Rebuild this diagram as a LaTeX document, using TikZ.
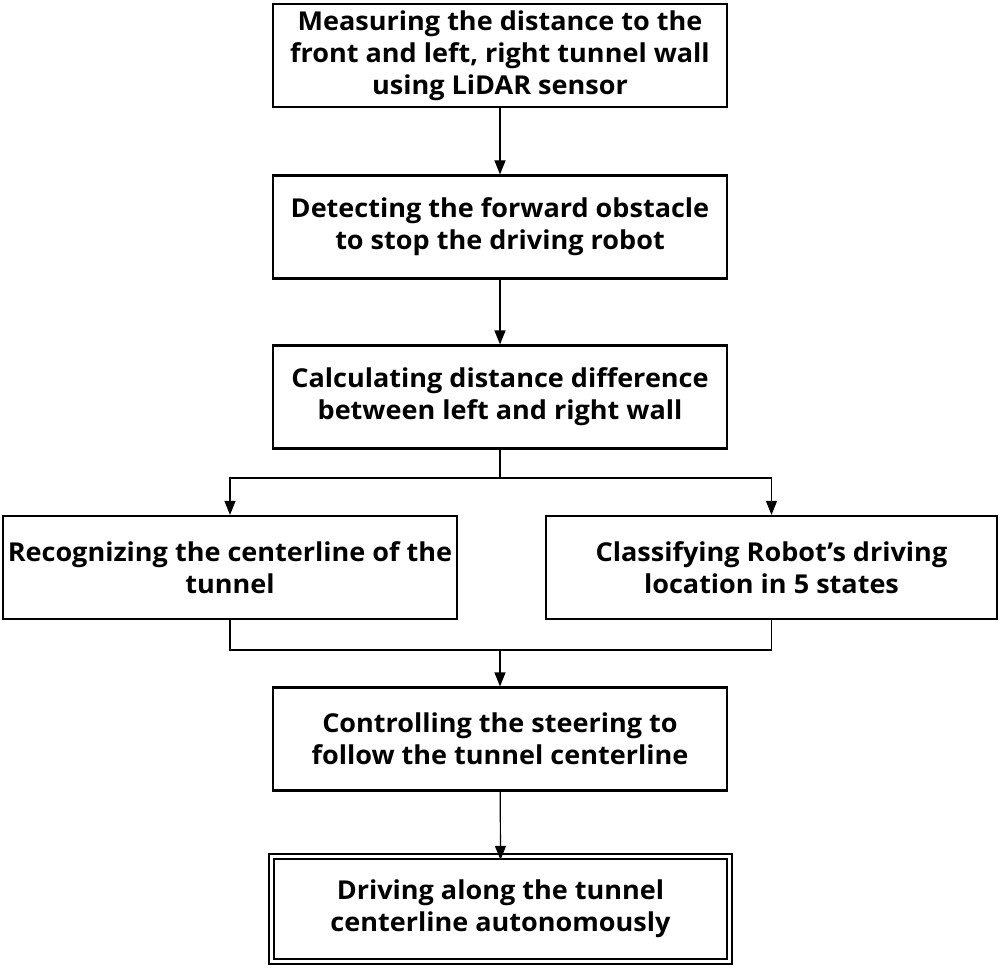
\documentclass[tikz,border=0pt]{standalone}
\usepackage{fontspec}
\setmainfont{Open Sans}[FakeStretch=1.04]
\usetikzlibrary{arrows.meta}
\begin{document}
\begin{tikzpicture}[x=1pt,y=-1pt,
  box/.style={draw,line width=2.2pt,minimum width=454pt,minimum height=103pt,align=center,inner sep=0pt,
    font=\fontsize{26}{32}\selectfont\bfseries},
  conn/.style={line width=1.2pt},
  arr/.style={conn,-{Triangle[length=14pt,width=11pt]}}]
\useasboundingbox (0,0) rectangle (1001,968);
\node[box] (b1) at (500,55.5) {Measuring the distance to the\\front and left, right tunnel wall\\using LiDAR sensor};
\node[box] (b2) at (500,227) {Detecting the forward obstacle\\to stop the driving robot};
\node[box] (b3) at (500,397) {Calculating distance difference\\between left and right wall};
\node[box,minimum width=454pt] (b4) at (230,567.5) {Recognizing the centerline of the\\tunnel};
\node[box,minimum width=451pt] (b5) at (771.5,567.5) {Classifying Robot’s driving\\location in 5 states};
\node[box] (b6) at (500,739) {Controlling the steering to\\follow the tunnel centerline};
\node[box,draw=none,minimum width=455pt,minimum height=103pt] (b7) at (500.5,909) {Driving along the tunnel\\centerline autonomously};
\draw[line width=2pt,double,double distance=3pt] (b7.south west) rectangle (b7.north east);
\coordinate (s1) at (500,478);
\coordinate (s2) at (500,650);
\draw[arr] (b1) -- (b2);
\draw[arr] (b2) -- (b3);
\draw[conn] (b3.south) -- (s1);
\draw[arr] (s1) -| (b4.north);
\draw[arr] (s1) -| (b5.north);
\draw[conn] (b4.south) |- (s2);
\draw[conn] (b5.south) |- (s2);
\draw[arr] (s2) -- (b6.north);
\draw[arr] (b6) -- ([yshift=-3.5pt]b7.north);
\end{tikzpicture}
\end{document}
